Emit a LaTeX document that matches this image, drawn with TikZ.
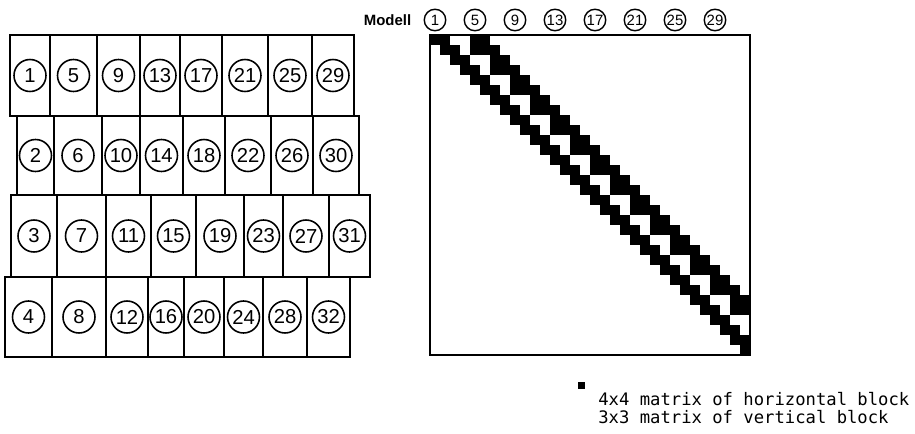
\documentclass[tikz,border=0pt]{standalone}
\usepackage{fontspec}
\setmainfont{Liberation Sans}
\newfontfamily\monofont{DejaVu Sans Mono}
\usetikzlibrary{positioning}

\begin{document}
\begin{tikzpicture}[
  x=0.02cm, y=-0.02cm,
  % ---- Node styles ----
  panel/.style={draw, line width=1pt},
  num/.style={draw, circle, line width=0.9pt, minimum size=6.4mm, inner sep=0pt,
              font=\fontsize{11.5}{11.5}\selectfont},
  topnum/.style={draw, circle, line width=0.8pt, minimum size=4.3mm, inner sep=0pt,
                 font=\fontsize{8.5}{8.5}\selectfont},
  frame/.style={draw, line width=1.1pt},
  cell/.style={fill=black}
]
\useasboundingbox (0,0) rectangle (915,433);

% ===== Left: 4 rows of models (x in px, y in px downwards) =====
% Row 1
\foreach \xl/\xr/\n in {10/50/1, 50/97/5, 97/140/9, 140/180/13,
                        180/222/17, 222/268/21, 268/312/25, 312/354/29} {
  \draw[panel] (\xl,35) rectangle (\xr,116);
  \node[num] (m\n) at ({(\xl+\xr)/2},75.5) {\n};
}
% Row 2
\foreach \xl/\xr/\n in {17/54/2, 54/102/6, 102/140/10, 140/183/14,
                        183/225/18, 225/271/22, 271/313/26, 313/359/30} {
  \draw[panel] (\xl,116) rectangle (\xr,195);
  \node[num] (m\n) at ({(\xl+\xr)/2},155.5) {\n};
}
% Row 3
\foreach \xl/\xr/\n in {11/57/3, 57/106/7, 106/151/11, 151/196/15,
                        196/244/19, 244/283/23, 283/329/27, 329/370/31} {
  \draw[panel] (\xl,195) rectangle (\xr,277);
  \node[num] (m\n) at ({(\xl+\xr)/2},236) {\n};
}
% Row 4
\foreach \xl/\xr/\n in {5/52/4, 52/106/8, 106/148/12, 148/184/16,
                        184/224/20, 224/263/24, 263/307/28, 307/350/32} {
  \draw[panel] (\xl,277) rectangle (\xr,357);
  \node[num] (m\n) at ({(\xl+\xr)/2},317) {\n};
}

% ===== Right: coupling matrix, 32 x 32 cells of 10px =====
\foreach \n [count=\i from 0] in {1,5,...,29}
  \node[topnum] (t\n) at (435+40*\i,20) {\n};
\node[font=\bfseries\fontsize{8.5}{8.5}\selectfont, inner sep=0pt, left=2.4mm of t1] (modell) {Modell};

% even rows: offsets 0,1,4,5 -- odd rows: offsets 0,1,3,4,5
\foreach \r in {0,...,31} {
  \ifodd\r \def\offs{0,1,3,4,5}\else \def\offs{0,1,4,5}\fi
  \foreach \o in \offs {
    \pgfmathtruncatemacro{\col}{\r+\o}
    \ifnum\col<32 \fill[cell] (430+10*\col,35+10*\r) rectangle ++(10,10); \fi
  }
}
\draw[frame] (430,35) rectangle (750,355);

% ===== Legend =====
\node[fill=black, minimum size=1.4mm, inner sep=0pt] (key) at (581.5,385) {};
\node[font=\monofont\fontsize{9.8}{10.3}\selectfont, align=left, anchor=north west,
      inner sep=0pt] (legend) at (598,392) {4x4 matrix of horizontal block\\3x3 matrix of vertical block};

\end{tikzpicture}
\end{document}
